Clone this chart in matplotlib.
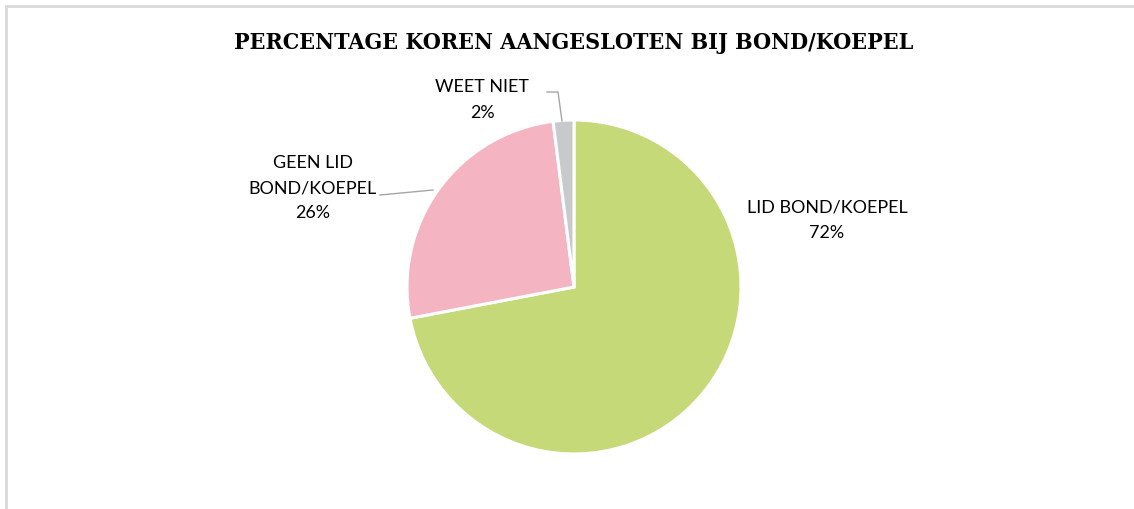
import matplotlib
matplotlib.use("Agg")
import matplotlib.pyplot as plt
from matplotlib.patches import Rectangle

# Survey result: share of choirs affiliated with a federation/umbrella body
categories = ["LID BOND/KOEPEL", "GEEN LID\nBOND/KOEPEL", "WEET NIET"]
values = [72, 26, 2]
colors = ["#c6d978", "#f4b4c2", "#c8c9cb"]
title = "PERCENTAGE KOREN AANGESLOTEN BIJ BOND/KOEPEL"

W, H = 1134, 509
fig = plt.figure(figsize=(W / 100, H / 100), dpi=100)
fig.patch.set_facecolor("white")

# light chart-area frame (left and top edges visible)
fig.add_artist(Rectangle((6 / W, -0.1), 1.2, (H - 6) / H + 0.1,
                         transform=fig.transFigure, fill=False,
                         edgecolor="#d9d9d9", linewidth=2))

# pie axes: centre (574, 287) px, radius 167 px
cx, cy, r = 574, 287, 167
ax = fig.add_axes([(cx - r) / W, (H - cy - r) / H, 2 * r / W, 2 * r / H])

wedges, _ = ax.pie(values, colors=colors, startangle=90, counterclock=False,
                   radius=1.0, wedgeprops=dict(edgecolor="white", linewidth=2.2))
for w in wedges:
    w.set_clip_on(False)
ax.set_xlim(-1, 1)
ax.set_ylim(-1, 1)
ax.set_aspect("equal")
ax.axis("off")

fig.text(cx / W, 1 - 43 / H, title, ha="center", va="center",
         family="DejaVu Serif", fontstretch="condensed",
         fontweight="bold", fontsize=16.7)

def px(x, y):
    return ((x - cx) / r, (cy - y) / r)

lab_font = dict(family="Lato", fontsize=12.9, color="#000000", linespacing=1.7)

# LID BOND/KOEPEL (no leader line)
ax.text(*px(827, 220), f"{categories[0]}\n{values[0]}%", ha="center", va="center", **lab_font)

# GEEN LID BOND/KOEPEL with leader line
ax.text(*px(313, 188), f"{categories[1]}\n{values[1]}%", ha="center", va="center", **lab_font)
lx, ly = zip(px(380, 195), px(433, 190))
ax.plot(lx, ly, color="#a6a6a6", linewidth=1.0, clip_on=False)

# WEET NIET with elbow leader line
ax.text(*px(482, 100), f"{categories[2]}\n{values[2]}%", ha="center", va="center", **lab_font)
lx, ly = zip(px(547, 92), px(558, 92), px(562, 121))
ax.plot(lx, ly, color="#a6a6a6", linewidth=1.0, clip_on=False)

fig.savefig("out.png", dpi=100, facecolor="white")
